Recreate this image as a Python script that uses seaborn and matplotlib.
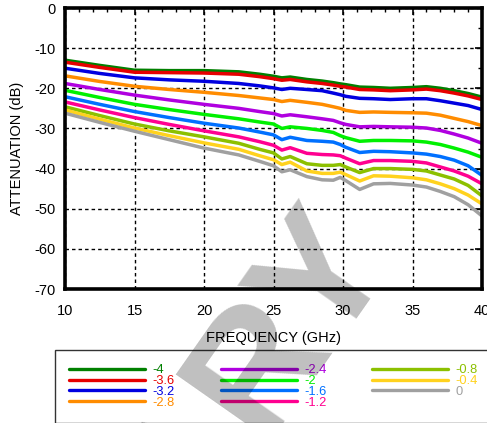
import matplotlib
matplotlib.use("Agg")
import matplotlib.pyplot as plt
from matplotlib.lines import Line2D
from matplotlib.ticker import MultipleLocator
import seaborn as sns
import pandas as pd

# ---------------- data ----------------
freq = [10, 12.5, 15, 17.5, 20, 22.5, 24, 25, 25.6, 26.2, 27.4, 28.5, 29.3, 29.8,
        30.2, 31.2, 32.2, 33.4, 35, 36, 37, 38, 39, 40]

s_m4_0 = [-13.0, -14.3, -15.5, -15.6, -15.6, -15.9, -16.5, -17.0, -17.4, -17.2, -17.8, -18.2,
          -18.6, -18.9, -19.1, -19.7, -19.8, -20.0, -19.8, -19.6, -20.0, -20.6, -21.3, -22.2]
s_m3_6 = [-13.5, -14.8, -16.0, -16.1, -16.2, -16.5, -17.1, -17.6, -18.0, -17.8, -18.4, -18.8,
          -19.2, -19.5, -19.7, -20.3, -20.4, -20.6, -20.4, -20.2, -20.6, -21.2, -21.9, -22.8]
s_m3_2 = [-15.0, -16.3, -17.4, -17.9, -18.25, -18.8, -19.4, -19.9, -20.3, -20.0, -20.3, -20.6,
          -21.2, -21.6, -22.0, -22.5, -22.6, -22.8, -22.6, -22.6, -23.1, -23.7, -24.3, -25.3]
s_m2_8 = [-16.9, -18.3, -19.5, -20.3, -21.0, -21.8, -22.4, -22.8, -23.3, -23.0, -23.5, -24.0,
          -24.6, -25.0, -25.5, -26.0, -25.9, -26.0, -26.1, -26.2, -26.7, -27.5, -28.3, -29.3]
s_m2_4 = [-18.8, -20.3, -21.7, -22.9, -24.0, -25.0, -25.8, -26.3, -26.9, -26.6, -27.1, -27.6,
          -28.0, -28.6, -29.0, -29.6, -29.5, -29.6, -29.7, -29.9, -30.5, -31.4, -32.4, -33.7]
s_m2_0 = [-20.5, -22.3, -24.0, -25.3, -26.5, -27.6, -28.4, -28.9, -30.0, -29.6, -30.0, -30.5,
          -31.0, -31.8, -32.3, -33.2, -33.0, -33.0, -33.1, -33.4, -34.0, -34.9, -35.9, -37.2]
s_m1_6 = [-22.1, -24.0, -25.8, -27.3, -28.7, -29.9, -30.9, -31.6, -32.8, -32.2, -33.0, -33.2,
          -33.4, -34.0, -34.7, -36.0, -35.7, -35.8, -36.1, -36.4, -37.0, -37.9, -39.3, -41.7]
s_m1_2 = [-23.4, -25.4, -27.3, -29.0, -30.6, -32.1, -33.3, -34.2, -35.4, -34.8, -36.2, -36.5,
          -36.6, -36.8, -37.4, -38.8, -38.0, -38.0, -38.2, -38.6, -39.6, -40.6, -41.9, -43.8]
s_m0_8 = [-24.6, -26.8, -28.9, -30.6, -32.1, -33.7, -35.2, -36.1, -37.6, -37.0, -38.8, -39.2,
          -39.2, -39.0, -39.6, -41.0, -40.0, -40.0, -40.2, -40.6, -41.6, -42.6, -44.2, -46.8]
s_m0_4 = [-25.4, -27.7, -29.9, -31.8, -33.6, -35.2, -36.8, -37.8, -39.0, -38.4, -40.6, -41.2,
          -41.2, -40.9, -41.5, -43.1, -41.8, -41.9, -42.3, -42.8, -43.8, -45.0, -46.6, -48.8]
s_0_0 = [-26.2, -28.5, -30.7, -32.8, -34.9, -36.6, -38.2, -39.3, -40.8, -40.3, -42.0, -42.8,
         -42.9, -42.2, -43.0, -45.2, -43.8, -43.7, -44.1, -44.6, -45.7, -47.0, -49.0, -51.8]

labels = ["-4", "-3.6", "-3.2", "-2.8", "-2.4", "-2", "-1.6", "-1.2", "-0.8", "-0.4", "0"]
series = [s_m4_0, s_m3_6, s_m3_2, s_m2_8, s_m2_4, s_m2_0, s_m1_6, s_m1_2, s_m0_8, s_m0_4, s_0_0]
colors = ["#008000", "#e60000", "#0000e0", "#ff8c00", "#b000e0", "#00f000",
          "#0070ff", "#ff0090", "#8cc000", "#ffd21e", "#a0a0a0"]

x_ticks = [10, 15, 20, 25, 30, 35, 40]
y_ticks = [0, -10, -20, -30, -40, -50, -60, -70]

# ---------------- plotting ----------------
sns.set_theme(style="white")
plt.rcParams["font.family"] = ["Liberation Sans", "DejaVu Sans"]
plt.rcParams["axes.unicode_minus"] = False

rows = []
for lab, vals in zip(labels, series):
    for f, v in zip(freq, vals):
        rows.append({"freq": f, "att": v, "vdd": lab})
df = pd.DataFrame(rows)

fig = plt.figure(figsize=(4.87, 4.23), dpi=100)
W, H = 487, 423
ax = fig.add_axes([65 / W, 1 - 289 / H, 417 / W, 281 / H])

sns.lineplot(data=df, x="freq", y="att", hue="vdd", hue_order=labels,
             palette=colors, linewidth=2.5, legend=False, ax=ax, zorder=3)

ax.set_xlim(10, 40)
ax.set_ylim(-70, 0)
ax.set_xticks(x_ticks)
ax.set_yticks(y_ticks)
ax.set_xticklabels([str(t) for t in x_ticks])
ax.set_yticklabels([str(t) for t in y_ticks])
ax.xaxis.set_minor_locator(MultipleLocator(1))
ax.yaxis.set_minor_locator(MultipleLocator(5))
ax.tick_params(axis="both", which="both", direction="in", top=True, right=True,
               labeltop=False, labelright=False, colors="black", labelsize=10.5)
ax.tick_params(axis="both", which="major", length=5, width=1.2)
ax.tick_params(axis="both", which="minor", length=3, width=1.0)
ax.tick_params(axis="x", which="major", pad=11)
ax.tick_params(axis="y", which="major", pad=7)

ax.grid(True, which="major", color="black", linestyle=(0, (2.5, 2.2)), linewidth=1.0)
for sp in ax.spines.values():
    sp.set_color("black")
    sp.set_linewidth(2.6)
    sp.set_zorder(5)

ax.set_xlabel("FREQUENCY (GHz)", fontsize=10.5, color="black", labelpad=9)
ax.set_ylabel("ATTENUATION (dB)", fontsize=10.5, color="black", labelpad=7)

handles = [Line2D([], [], color=c, linewidth=2.4) for c in colors]
leg = fig.legend(handles, labels, loc="upper left",
                 bbox_to_anchor=(55 / W, 0.0, 437 / W, 1 - 350 / H),
                 mode="expand", ncol=3, fontsize=9.3, labelcolor="linecolor",
                 handlelength=5.9, handletextpad=0.55, labelspacing=-0.09,
                 borderpad=1.1, borderaxespad=0.0, frameon=True, fancybox=False,
                 edgecolor="black")
leg.get_frame().set_linewidth(1.0)

# watermark
fig.text(392 / W, 1 - 252 / H, "PRELIMINARY", fontsize=122, fontweight="bold",
         rotation=55, rotation_mode="anchor", ha="right", va="baseline",
         color="black", alpha=0.25, zorder=20)

fig.savefig("out.png", dpi=100)
